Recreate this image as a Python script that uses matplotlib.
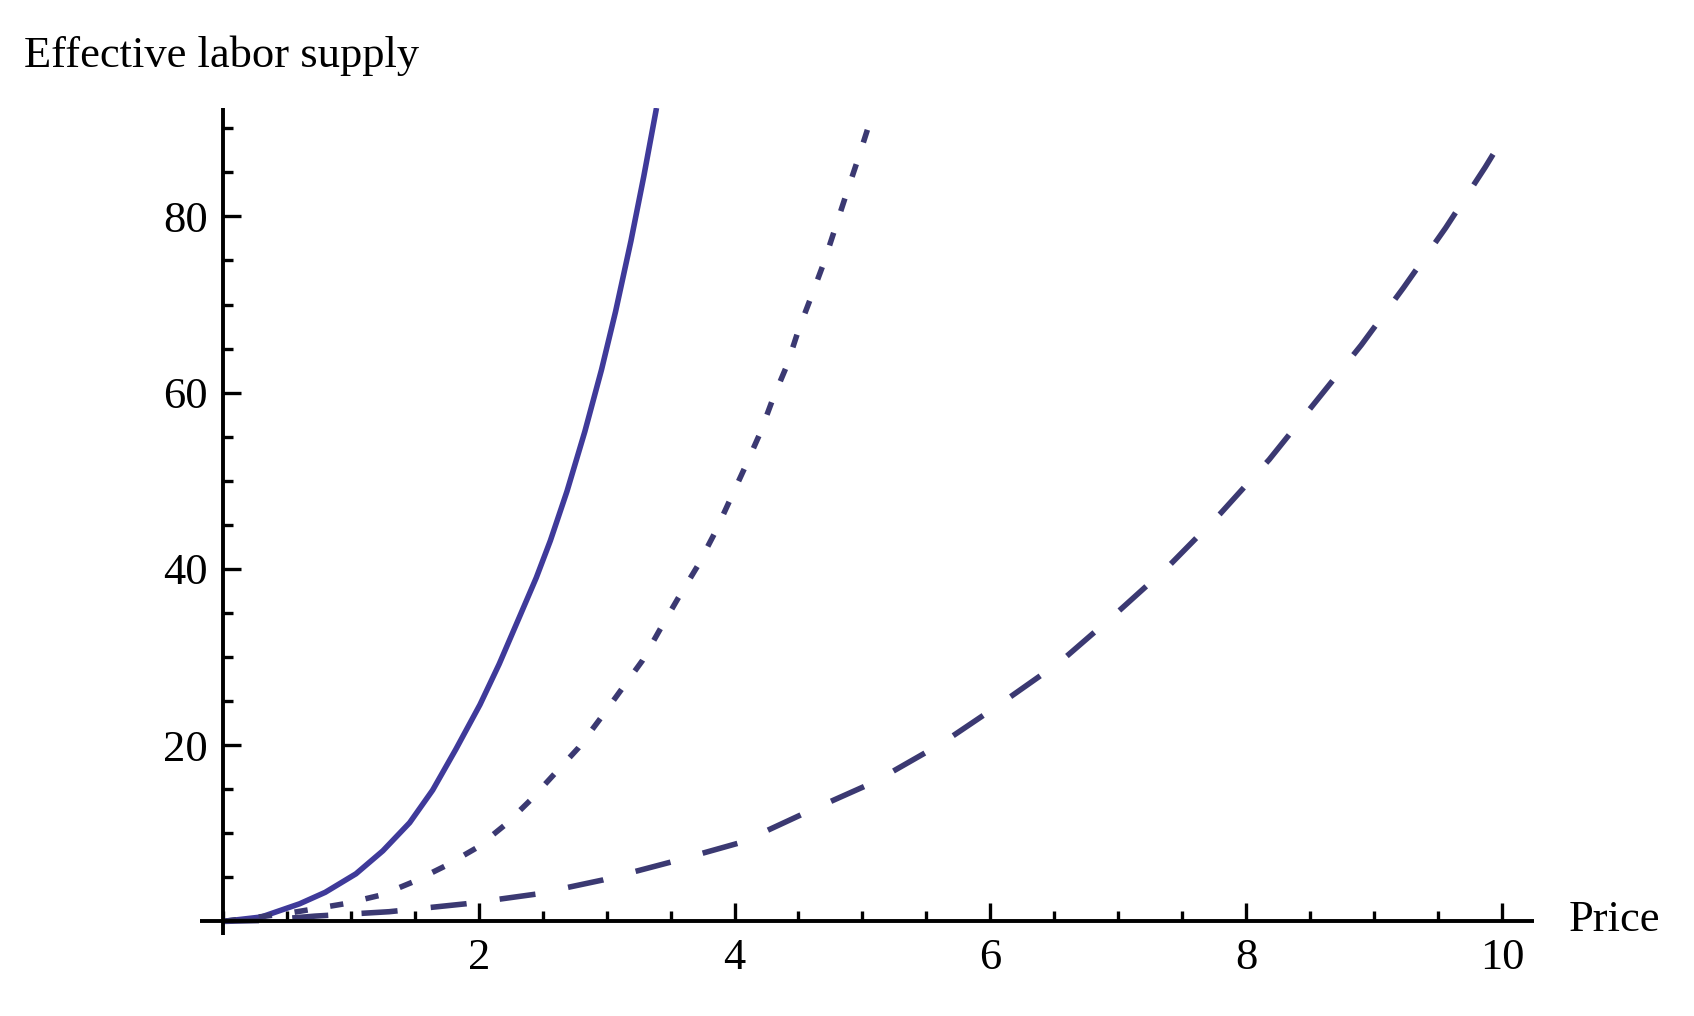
import matplotlib.pyplot as plt
from matplotlib.ticker import MultipleLocator

# values (price, effective labor supply)
solid_x = [0, 0.3, 0.6, 0.8, 1.04, 1.25, 1.46, 1.64, 1.82, 2.01, 2.16, 2.32, 2.45, 2.56, 2.69,
           2.83, 2.96, 3.07, 3.19, 3.29, 3.39]
solid_y = [0, 0.5, 2.0, 3.3, 5.4, 8.0, 11.2, 14.9, 19.5, 24.6, 29.2, 34.6, 39.0, 43.2, 48.8,
           55.6, 62.6, 69.2, 77.2, 84.5, 92.3]

dotted_x = [0, 0.5, 0.95, 1.24, 1.49, 1.74, 1.99, 2.21, 2.40, 2.59, 2.78, 2.95, 3.11, 3.28, 3.42,
            3.56, 3.71, 3.85, 3.97, 4.09, 4.20, 4.30, 4.41, 4.50, 4.60, 4.70, 4.79, 4.88, 4.97, 5.08]
dotted_y = [0, 0.9, 2.0, 3.0, 4.5, 6.3, 8.4, 11.0, 13.7, 16.7, 19.7, 23.0, 26.2, 29.6, 33.2,
            36.7, 40.3, 44.2, 48.0, 51.8, 55.4, 59.3, 63.1, 67.1, 70.9, 74.8, 78.8, 82.8, 86.7, 91.7]

dashed_x = [0, 0.3, 0.72, 1.3, 1.9, 2.45, 2.97, 3.52, 4.06, 4.58, 5.09, 5.62, 6.08, 6.55, 6.98,
            7.40, 7.80, 8.18, 8.54, 8.90, 9.23, 9.56, 9.87, 9.95]
dashed_y = [0, 0.1, 0.6, 1.1, 2.0, 3.1, 4.7, 6.8, 9.0, 12.5, 15.8, 20.2, 24.7, 29.5, 34.9,
            40.4, 46.3, 52.4, 58.9, 65.4, 71.9, 78.7, 85.6, 87.5]

x_ticks = [2, 4, 6, 8, 10]
y_ticks = [20, 40, 60, 80]

plt.rcParams['font.family'] = ['Liberation Serif', 'DejaVu Serif']

fig = plt.figure(figsize=(16.94, 10.16), dpi=100)
ax = fig.add_axes([0.118, 0.0801, 0.7875, 0.8136])

lw = 4.0
ax.plot(solid_x, solid_y, color='#3f3a9a', lw=lw, solid_capstyle='butt', solid_joinstyle='round')
ax.plot(dotted_x, dotted_y, color='#3b3972', lw=lw, dashes=(2.4, 4.1), dash_capstyle='butt')
ax.plot(dashed_x, dashed_y, color='#3b3972', lw=lw, dashes=(6.5, 6.0), dash_capstyle='butt')

ax.set_xlim(-0.18, 10.25)
ax.set_ylim(-1.5, 92.3)

for s in ['top', 'right']:
    ax.spines[s].set_visible(False)
for s in ['left', 'bottom']:
    ax.spines[s].set_position(('data', 0))
    ax.spines[s].set_linewidth(2.8)
    ax.spines[s].set_color('black')
    ax.spines[s].set_capstyle('butt')
ax.spines['bottom'].set_bounds(-0.18, 10.25)
ax.spines['left'].set_bounds(-1.5, 92.3)

ax.set_xticks(x_ticks)
ax.set_xticklabels([str(t) for t in x_ticks])
ax.set_yticks(y_ticks)
ax.set_yticklabels([str(t) for t in y_ticks])
ax.xaxis.set_minor_locator(MultipleLocator(0.5))
ax.yaxis.set_minor_locator(MultipleLocator(5))

ax.tick_params(which='major', direction='in', length=13, width=2.4, labelsize=32, color='black')
ax.tick_params(which='minor', direction='in', length=7.5, width=2.4, color='black')
ax.tick_params(axis='x', pad=12)
ax.tick_params(axis='y', pad=11)

fig.text(24 / 1694, 1 - 56 / 1016, 'Effective labor supply', fontsize=32, va='center', ha='left')
fig.text(1569 / 1694, 1 - 920 / 1016, 'Price', fontsize=32, va='center', ha='left')

fig.savefig('out.png', dpi=100, facecolor='white')
